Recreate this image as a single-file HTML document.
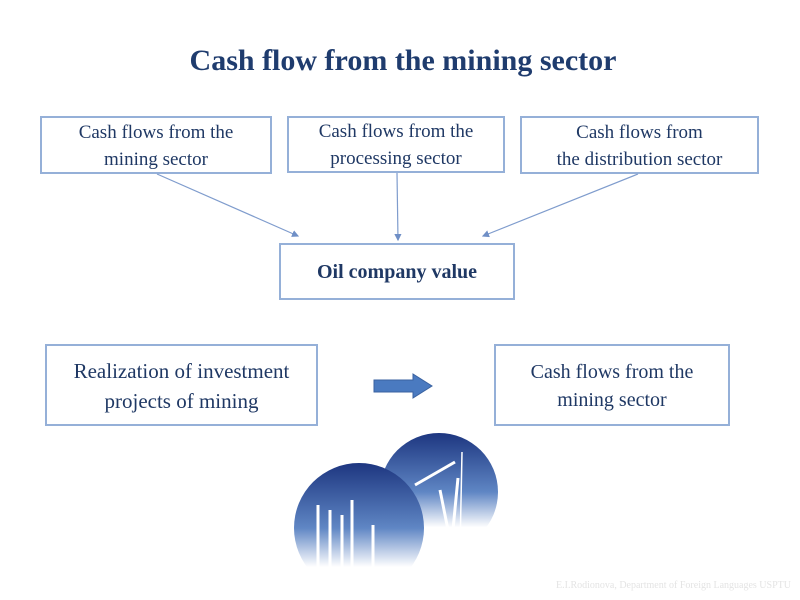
<!DOCTYPE html>
<html><head><meta charset="utf-8"><style>
body{margin:0;width:800px;height:600px;background:#fff;position:relative;overflow:hidden;font-family:"Liberation Serif",serif;color:#1f3864}
.b{position:absolute;border:2px solid #95b0d8;box-sizing:border-box;display:flex;align-items:center;justify-content:center;text-align:center;font-size:19px;line-height:27px;padding-top:1px}
</style></head><body>
<div style="position:absolute;left:0;width:806px;top:44px;text-align:center;font-weight:bold;font-size:30px;color:#1f3c6e">Cash flow from the mining sector</div>
<div class="b" style="left:40px;top:116px;width:232px;height:58px">Cash flows from the<br>mining sector</div>
<div class="b" style="left:287px;top:116px;width:218px;height:57px">Cash flows from the<br>processing sector</div>
<div class="b" style="left:520px;top:116px;width:239px;height:58px">Cash flows from<br>the distribution sector</div>
<div class="b" style="left:279px;top:243px;width:236px;height:57px;font-weight:bold;font-size:20px">Oil company value</div>
<div class="b" style="left:45px;top:344px;width:273px;height:82px;font-size:21px;line-height:30px">Realization of investment<br>projects of mining</div>
<div class="b" style="left:494px;top:344px;width:236px;height:82px;font-size:20px;line-height:28px">Cash flows from the<br>mining sector</div>
<svg width="800" height="600" style="position:absolute;left:0;top:0">
<defs>
<marker id="m" markerWidth="6" markerHeight="6" refX="5" refY="3" orient="auto"><path d="M0,0L6,3L0,6z" fill="#6f8fc6"/></marker>
<linearGradient id="g" x1="0" y1="0" x2="0" y2="1"><stop offset="0" stop-color="#1d3680"/><stop offset="0.5" stop-color="#5f86c4"/><stop offset="0.8" stop-color="#ffffff"/></linearGradient>
</defs>
<g stroke="#7f9ccd" stroke-width="1.2" marker-end="url(#m)">
<line x1="157" y1="174" x2="298" y2="236"/>
<line x1="397" y1="173" x2="398" y2="240"/>
<line x1="638" y1="174" x2="483" y2="236"/>
</g>
<path d="M374,380H413V374L432,386L413,398V392H374Z" fill="#4a7ac0" stroke="#3a62a0"/>
<circle cx="439" cy="492" r="59" fill="url(#g)"/>
<circle cx="359" cy="528" r="65" fill="url(#g)"/>
<g stroke="#fff" stroke-width="3" fill="none">
<path d="M415,485L455,462"/><path d="M440,490L450,540"/><path d="M458,478L452,540"/><path d="M462,452L460,550" stroke-width="1.5"/>
<path d="M318,600V505M330,600V510M342,600V515M352,600V500M373,600V525"/>
</g>
</svg>
<div style="position:absolute;left:556px;top:580px;font-size:10px;color:#e4e4e4;white-space:nowrap">E.I.Rodionova, Department of Foreign Languages USPTU</div>
</body></html>
